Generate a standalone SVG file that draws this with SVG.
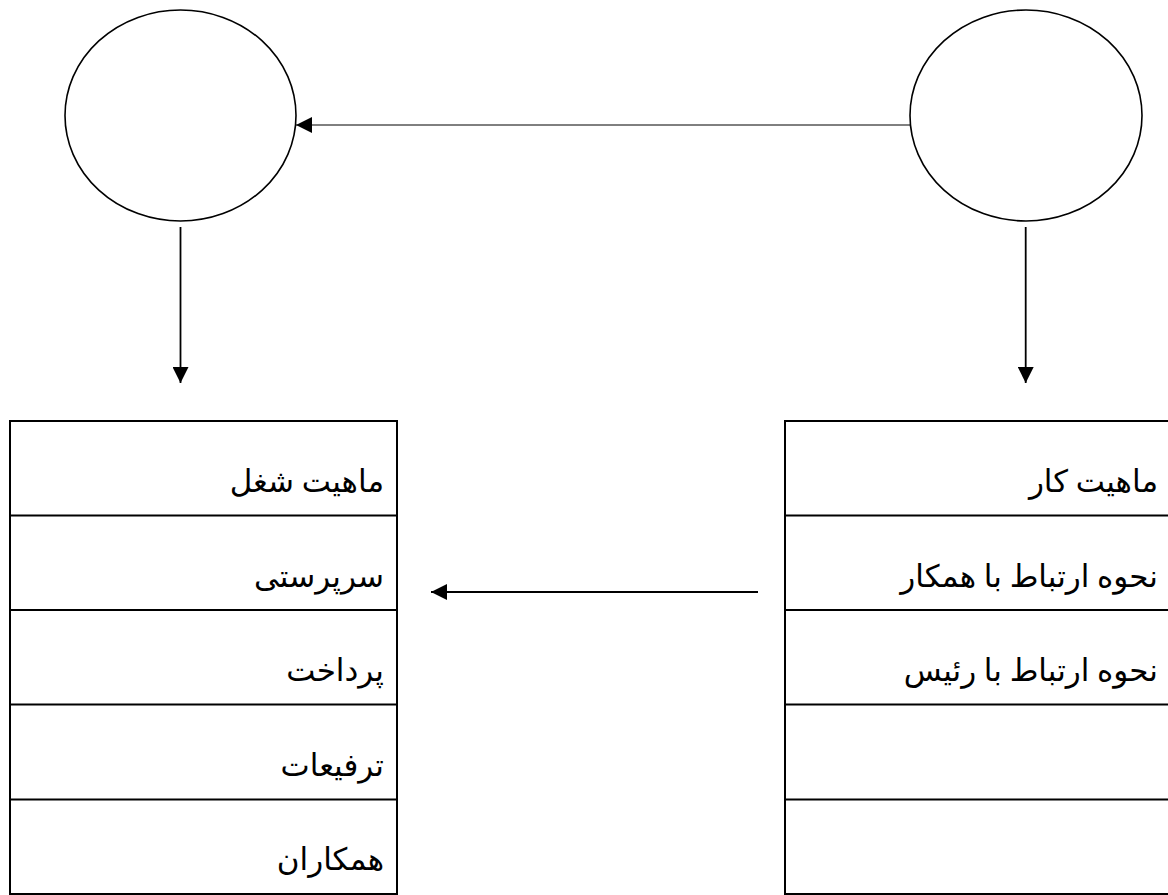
<svg xmlns="http://www.w3.org/2000/svg" width="1168" height="895" viewBox="0 0 1168 895">
<style>
.node ellipse{fill:#fff;stroke:#000;stroke-width:1.6}
.tbl{fill:none;stroke:#000;stroke-width:2}
.lbl{font-family:"Liberation Serif","DejaVu Serif","DejaVu Sans",serif;font-size:31px;fill:#000;text-anchor:end}
.conn{stroke:#000;fill:none}
</style>
<defs>
<marker id="ah" viewBox="0 0 16 16" refX="16" refY="8" markerWidth="16" markerHeight="16" markerUnits="userSpaceOnUse" orient="auto">
<path d="M0,0 L16,8 L0,16 Z" fill="#000"/>
</marker>
</defs>
<rect width="1168" height="895" fill="#fff"/>
<g id="circle-left" class="node"><ellipse cx="180.5" cy="115.5" rx="115.5" ry="105.5"/></g>
<g id="circle-right" class="node"><ellipse cx="1026" cy="115.5" rx="116" ry="105.5"/></g>
<g id="table-left">
<rect class="tbl" x="10" y="421" width="387" height="473"/>
<line class="tbl" x1="10" y1="515.5" x2="397" y2="515.5"/>
<line class="tbl" x1="10" y1="610" x2="397" y2="610"/>
<line class="tbl" x1="10" y1="704.5" x2="397" y2="704.5"/>
<line class="tbl" x1="10" y1="799.5" x2="397" y2="799.5"/>
<text class="lbl" x="384" y="492">ماهیت شغل</text>
<text class="lbl" x="384" y="587">سرپرستی</text>
<text class="lbl" x="384" y="681">پرداخت</text>
<text class="lbl" x="384" y="776">ترفیعات</text>
<text class="lbl" x="384" y="870">همکاران</text>
</g>
<g id="table-right">
<path class="tbl" d="M1170,421 H785 V894 H1170"/>
<line class="tbl" x1="785" y1="515.5" x2="1170" y2="515.5"/>
<line class="tbl" x1="785" y1="610" x2="1170" y2="610"/>
<line class="tbl" x1="785" y1="704.5" x2="1170" y2="704.5"/>
<line class="tbl" x1="785" y1="799.5" x2="1170" y2="799.5"/>
<text class="lbl" x="1158" y="492">ماهیت کار</text>
<text class="lbl" x="1158" y="587">نحوه ارتباط با همکار</text>
<text class="lbl" x="1158" y="681">نحوه ارتباط با رئیس</text>
</g>
<g id="connectors">
<line class="conn" stroke-width="1" stroke="#333" x1="910" y1="125" x2="296" y2="125" marker-end="url(#ah)"/>
<line class="conn" stroke-width="1.8" x1="180.5" y1="227" x2="180.5" y2="383" marker-end="url(#ah)"/>
<line class="conn" stroke-width="1.8" x1="1025.7" y1="227" x2="1025.7" y2="383" marker-end="url(#ah)"/>
<line class="conn" stroke-width="2" x1="758" y1="592" x2="431" y2="592" marker-end="url(#ah)"/>
</g>
</svg>
